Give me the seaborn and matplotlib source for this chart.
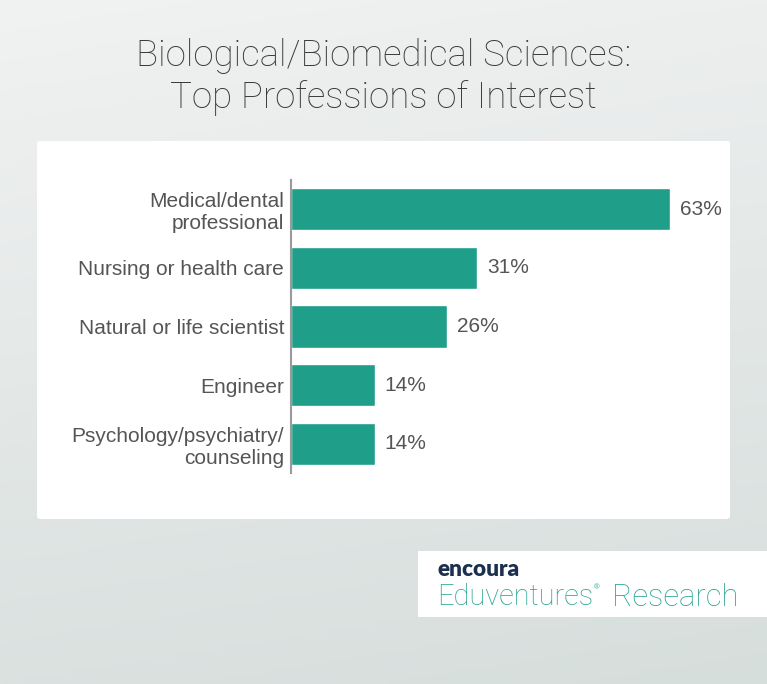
import numpy as np
import pandas as pd
import matplotlib
matplotlib.use("Agg")
import matplotlib.pyplot as plt
from matplotlib.patches import FancyBboxPatch, Rectangle
import seaborn as sns

professions = [
    "Medical/dental\nprofessional",
    "Nursing or health care",
    "Natural or life scientist",
    "Engineer",
    "Psychology/psychiatry/\ncounseling",
]
shares = [63, 31, 26, 14, 14]

df = pd.DataFrame({"profession": professions, "share": shares})

sns.set_theme(style="white")
plt.rcParams["font.family"] = ["Liberation Sans", "DejaVu Sans"]

W, H = 767, 684
fig = plt.figure(figsize=(W / 100, H / 100), dpi=100)
renderer = fig.canvas.get_renderer()


def px_width(txt):
    return txt.get_window_extent(renderer=renderer).width


def fit_width(txt, target_px):
    w = px_width(txt)
    txt.set_fontsize(txt.get_fontsize() * target_px / w)


# soft grey background gradient
bg = fig.add_axes([0, 0, 1, 1], zorder=-10)
yy, xx = np.mgrid[0:1:200j, 0:1:200j]
t = np.clip(0.85 * yy + 0.15 * xx, 0, 1)
top = np.array([0xF1, 0xF2, 0xF2]) / 255
bot = np.array([0xD6, 0xDE, 0xDC]) / 255
img = top[None, None, :] * (1 - t[..., None]) + bot[None, None, :] * t[..., None]
bg.imshow(img, extent=[0, 1, 0, 1], aspect="auto", origin="upper")
bg.set_xlim(0, 1)
bg.set_ylim(0, 1)
bg.axis("off")

# white chart panel
panel = FancyBboxPatch((37 / W, 1 - 519 / H), (730 - 37) / W, (519 - 141) / H,
                       boxstyle="round,pad=0,rounding_size=0.004",
                       transform=fig.transFigure, facecolor="white",
                       edgecolor="none", zorder=-5)
fig.patches.append(panel)

# logo box
fig.patches.append(Rectangle((418 / W, 1 - 617 / H), (767 - 418) / W, (617 - 551) / H,
                             transform=fig.transFigure, facecolor="white",
                             edgecolor="none", zorder=-5))

# title
title_font = dict(ha="center", va="center", color="#3a3a3a",
                  family=["Roboto", "DejaVu Sans"], fontweight="light")
t1 = fig.text(0.5, 1 - 56 / H, "Biological/Biomedical Sciences:", fontsize=24, **title_font)
t2 = fig.text(0.5, 1 - 98 / H, "Top Professions of Interest", fontsize=24, **title_font)
fit_width(t1, 495)
t2.set_fontsize(t1.get_fontsize())

# bar chart
ax = fig.add_axes([291 / W, 1 - 473 / H, (712 - 291) / W, (473 - 180) / H])
ax.patch.set_alpha(0)
sns.barplot(data=df, x="share", y="profession", color="#1f9e89", width=0.72,
            saturation=1, ax=ax, orient="h")
ax.set_xlim(0, 70)
ax.set_ylim(4.5, -0.5)
ax.set_xlabel("")
ax.set_ylabel("")
ax.set_xticks([])
for s in ["top", "right", "bottom"]:
    ax.spines[s].set_visible(False)
ax.spines["left"].set_color("#9a9a9a")
ax.spines["left"].set_linewidth(1.5)
ax.tick_params(axis="y", length=0, pad=5, labelsize=15, labelcolor="#555555")
for lab in ax.get_yticklabels():
    lab.set_multialignment("right")
    lab.set_linespacing(1.2)

for i, v in enumerate(shares):
    ax.text(v + 1.6, i, f"{v}%", ha="left", va="center", fontsize=15, color="#555555")

# logo text
enc = fig.text(437 / W, 1 - 570 / H, "encoura", ha="left", va="center", fontsize=16,
               fontweight="heavy", color="#1d2f4e", family=["Lato", "DejaVu Sans"])
fit_width(enc, 82)

logo_font = dict(ha="left", va="center", color="#2aa591",
                 family=["Roboto", "DejaVu Sans"], fontweight="light")
edu = fig.text(437 / W, 1 - 597 / H, "Eduventures", fontsize=21, **logo_font)
fit_width(edu, 156)
edu_right = 437 + px_width(edu)
fig.text((edu_right + 1) / W, 1 - 588 / H, "®", ha="left", va="center",
         fontsize=5.5, color="#2aa591")
res = fig.text(612 / W, 1 - 597 / H, "Research", fontsize=21, **logo_font)
fit_width(res, 126)

fig.savefig("out.png", dpi=100)
